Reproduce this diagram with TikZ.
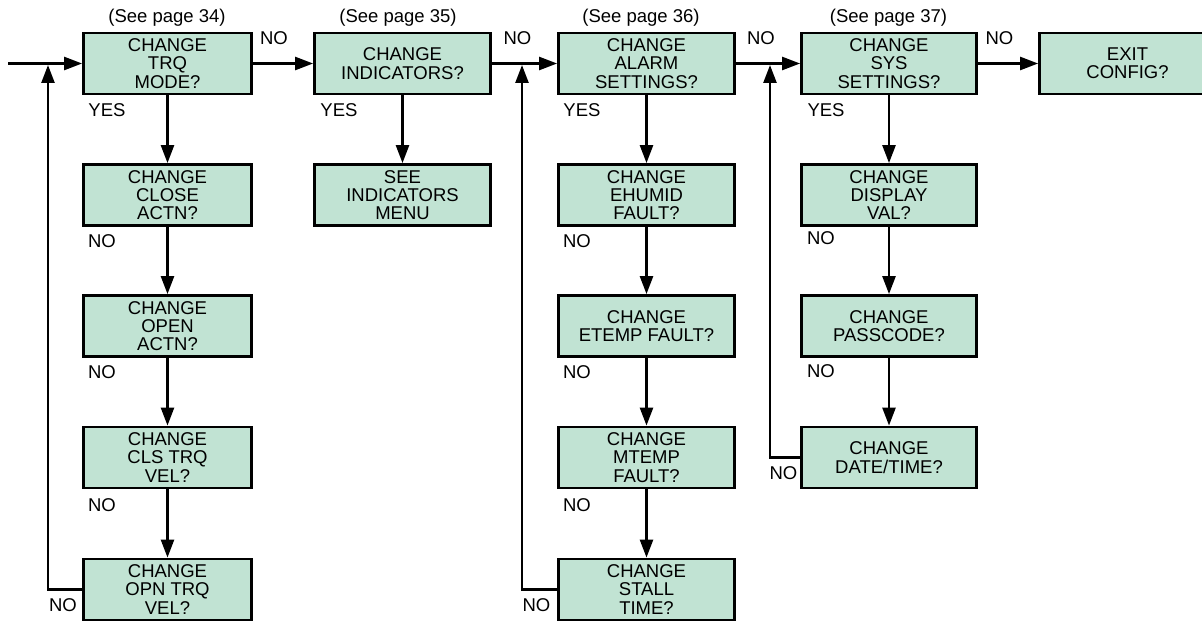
\documentclass[tikz,border=0pt]{standalone}
\usepackage{fontspec}
\setmainfont{Liberation Sans}
\usetikzlibrary{arrows.meta}
\definecolor{boxgreen}{RGB}{193,227,211}

\begin{document}
\begin{tikzpicture}[x=1pt, y=-1pt,
  box/.style={draw, line width=2.8pt, fill=boxgreen, align=center,
    minimum height=61pt, inner sep=0pt, font=\fontsize{18.5}{18.3}\selectfont},
  lbl/.style={inner sep=0pt, font=\fontsize{18.5}{18.3}\selectfont},
  flow/.style={line width=2.5pt, -{Triangle[length=18pt,width=13pt]}}]
  \clip (0,0) rectangle (1202,623);

  % Torque column
  \node[box, minimum width=168pt] (trq)   at (167.5,63.5)  {CHANGE\\TRQ\\MODE?};
  \node[box, minimum width=168pt] (close) at (167.5,195)   {CHANGE\\CLOSE\\ACTN?};
  \node[box, minimum width=168pt] (open)  at (167.5,326)   {CHANGE\\OPEN\\ACTN?};
  \node[box, minimum width=168pt] (clstq) at (167.5,457.5) {CHANGE\\CLS TRQ\\VEL?};
  \node[box, minimum width=168pt] (opntq) at (167.5,589.5) {CHANGE\\OPN TRQ\\VEL?};

  % Indicators column
  \node[box, minimum width=176pt] (ind)    at (402.5,63.5) {CHANGE\\INDICATORS?};
  \node[box, minimum width=176pt] (indmnu) at (402.5,195)  {SEE\\INDICATORS\\MENU};

  % Alarm column
  \node[box, minimum width=176pt] (alarm) at (646.5,63.5)  {CHANGE\\ALARM\\SETTINGS?};
  \node[box, minimum width=176pt] (ehum)  at (646.5,195)   {CHANGE\\EHUMID\\FAULT?};
  \node[box, minimum width=176pt] (etmp)  at (646.5,326)   {CHANGE\\ETEMP FAULT?};
  \node[box, minimum width=176pt] (mtmp)  at (646.5,457.5) {CHANGE\\MTEMP\\FAULT?};
  \node[box, minimum width=176pt] (stall) at (646.5,589.5) {CHANGE\\STALL\\TIME?};

  % System column
  \node[box, minimum width=175pt] (sys)  at (889,63.5)  {CHANGE\\SYS\\SETTINGS?};
  \node[box, minimum width=175pt] (disp) at (889,195)   {CHANGE\\DISPLAY\\VAL?};
  \node[box, minimum width=175pt] (pass) at (889,326)   {CHANGE\\PASSCODE?};
  \node[box, minimum width=175pt] (date) at (889,457.5) {CHANGE\\DATE/TIME?};

  % Exit
  \node[box, minimum width=176pt] (exit) at (1127.5,63.5) {EXIT\\CONFIG?};

  % Loose ends
  \coordinate (start) at (8,63.5);
  \coordinate (j1) at (48,65);
  \coordinate (j2) at (522,65);
  \coordinate (j3) at (770,65);

  % Main line
  \draw[flow] (start) -- (trq);
  \draw[flow] (trq) -- (ind);
  \draw[flow] (ind) -- (alarm);
  \draw[flow] (alarm) -- (sys);
  \draw[flow] (sys) -- (exit);

  % Downward steps
  \draw[flow] (trq) -- (close);
  \draw[flow] (close) -- (open);
  \draw[flow] (open) -- (clstq);
  \draw[flow] (clstq) -- (opntq);
  \draw[flow] (ind) -- (indmnu);
  \draw[flow] (alarm) -- (ehum);
  \draw[flow] (ehum) -- (etmp);
  \draw[flow] (etmp) -- (mtmp);
  \draw[flow] (mtmp) -- (stall);
  \draw[flow] (sys) -- (disp);
  \draw[flow] (disp) -- (pass);
  \draw[flow] (pass) -- (date);

  % Loops back
  \draw[flow] (opntq.west) -| (j1);
  \draw[flow] (stall.west) -| (j2);
  \draw[flow] (date.west) -| (j3);

  % Page references
  \node[lbl] (pg34) at (167,18)   {(See page 34)};
  \node[lbl] (pg35) at (398,18)   {(See page 35)};
  \node[lbl] (pg36) at (641,18)   {(See page 36)};
  \node[lbl] (pg37) at (888.5,18) {(See page 37)};

  % YES labels
  \node[lbl] (yes1) at (107,110) {YES};
  \node[lbl] (yes2) at (339,110) {YES};
  \node[lbl] (yes3) at (582,110) {YES};
  \node[lbl] (yes4) at (826,110) {YES};

  % NO labels, main line
  \node[lbl] (no1) at (274,38)    {NO};
  \node[lbl] (no2) at (517.5,38)  {NO};
  \node[lbl] (no3) at (761,38)    {NO};
  \node[lbl] (no4) at (999.5,38)  {NO};

  % NO labels, columns
  \node[lbl] (no5)  at (102,241) {NO};
  \node[lbl] (no6)  at (102,372) {NO};
  \node[lbl] (no7)  at (102,505) {NO};
  \node[lbl] (no8)  at (63,605)  {NO};
  \node[lbl] (no9)  at (577,241) {NO};
  \node[lbl] (no10) at (577,372) {NO};
  \node[lbl] (no11) at (577,505) {NO};
  \node[lbl] (no12) at (536.5,605) {NO};
  \node[lbl] (no13) at (821,238) {NO};
  \node[lbl] (no14) at (821,371) {NO};
  \node[lbl] (no15) at (783.5,473) {NO};
\end{tikzpicture}
\end{document}
